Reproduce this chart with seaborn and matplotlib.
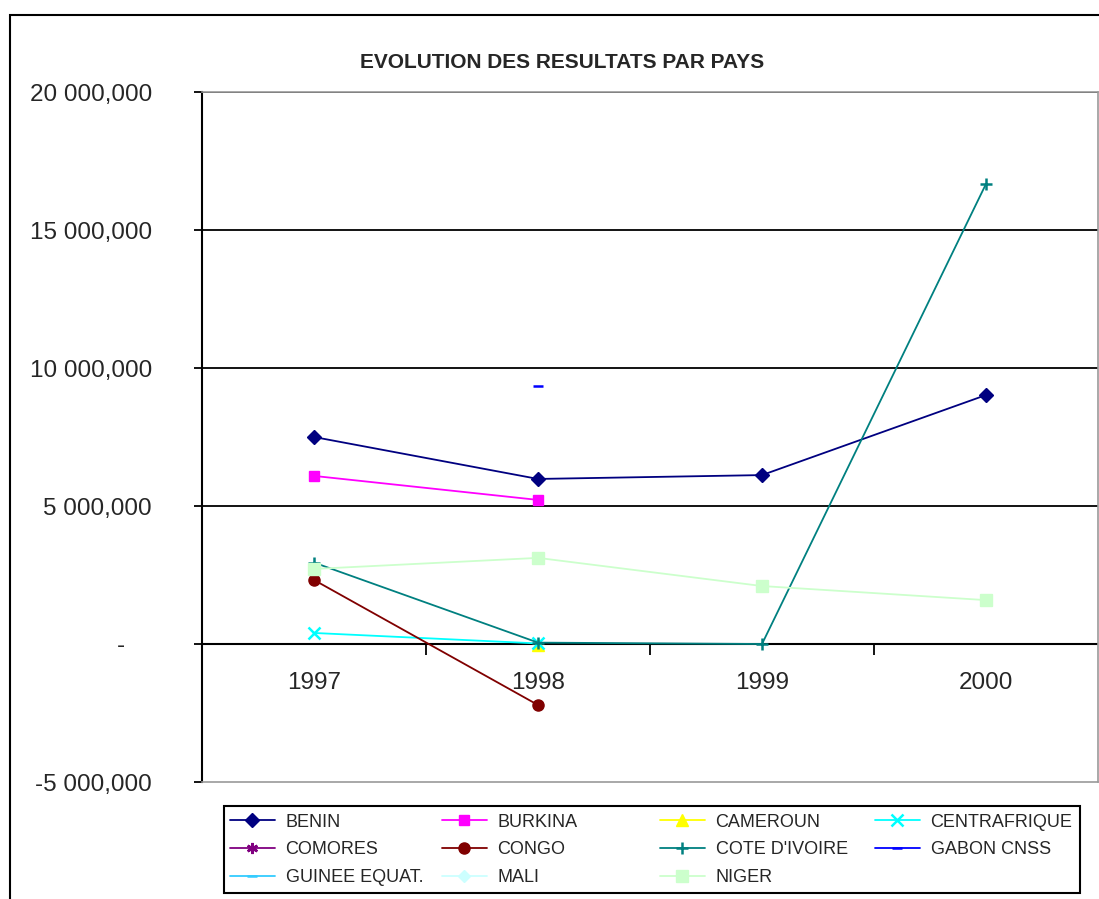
import numpy as np
import pandas as pd
import matplotlib
matplotlib.use("Agg")
import matplotlib.pyplot as plt
from matplotlib.lines import Line2D
from matplotlib.patches import Rectangle
import seaborn as sns

# Data
years = ["1997", "1998", "1999", "2000"]
benin = [7500000, 5980000, 6120000, 9020000]
burkina = [6090000, 5220000, np.nan, np.nan]
cameroun = [np.nan, -30000, np.nan, np.nan]
centrafrique = [400000, 20000, np.nan, np.nan]
comores = [np.nan, np.nan, np.nan, np.nan]
congo = [2320000, -2210000, np.nan, np.nan]
cote_ivoire = [2950000, 50000, 0, 16670000]
gabon_cnss = [np.nan, 9350000, np.nan, np.nan]
guinee_equat = [np.nan, np.nan, np.nan, np.nan]
mali = [np.nan, np.nan, np.nan, np.nan]
niger = [2720000, 3120000, 2100000, 1590000]

series = {
    "BENIN": benin, "BURKINA": burkina, "CAMEROUN": cameroun,
    "CENTRAFRIQUE": centrafrique, "COMORES": comores, "CONGO": congo,
    "COTE D'IVOIRE": cote_ivoire, "GABON CNSS": gabon_cnss,
    "GUINEE EQUAT.": guinee_equat, "MALI": mali, "NIGER": niger,
}
colors = {
    "BENIN": "#000080", "BURKINA": "#FF00FF", "CAMEROUN": "#FFFF00",
    "CENTRAFRIQUE": "#00FFFF", "COMORES": "#800080", "CONGO": "#800000",
    "COTE D'IVOIRE": "#008080", "GABON CNSS": "#0000FF",
    "GUINEE EQUAT.": "#33CCFF", "MALI": "#CCFFFF", "NIGER": "#CCFFCC",
}
markers = {
    "BENIN": "D", "BURKINA": "s", "CAMEROUN": "^", "CENTRAFRIQUE": "x",
    "COMORES": (6, 2, 0), "CONGO": "o", "COTE D'IVOIRE": "+",
    "GABON CNSS": "_", "GUINEE EQUAT.": "_", "MALI": "D", "NIGER": "s",
}
msizes = {"BENIN": 7, "BURKINA": 7, "CAMEROUN": 8, "CENTRAFRIQUE": 8,
          "COMORES": 8, "CONGO": 8, "COTE D'IVOIRE": 9, "GABON CNSS": 7,
          "GUINEE EQUAT.": 7, "MALI": 6, "NIGER": 8}

sns.set_style("white")
plt.rcParams["font.family"] = ["Liberation Sans", "DejaVu Sans"]

fig = plt.figure(figsize=(10.99, 8.99), dpi=100)
W, H = 1099, 899
ax = fig.add_axes([202 / W, (H - 782) / H, (1098 - 202) / W, (782 - 92) / H])

# outer chart border
fig.patches.append(Rectangle((10 / W, -0.01), 1.0, (H - 15) / H + 0.01,
                             transform=fig.transFigure, fill=False,
                             edgecolor="black", linewidth=1.5, zorder=0))

xpos = np.arange(len(years))
handles = []
for name, vals in series.items():
    c = colors[name]
    df = pd.DataFrame({"x": xpos, "y": vals}).dropna()
    mew = 1.8 if markers[name] in ("x", "+", "_", (6, 2, 0)) else 1
    if len(df):
        sns.lineplot(data=df, x="x", y="y", ax=ax, color=c, linewidth=1.3,
                     marker=markers[name], markersize=msizes[name],
                     markeredgecolor=c, markerfacecolor=c, markeredgewidth=mew,
                     zorder=3)
    handles.append(Line2D([], [], color=c, linewidth=1.3, marker=markers[name],
                          markersize=msizes[name], markeredgecolor=c,
                          markerfacecolor=c, markeredgewidth=mew, label=name))

ax.set_xlim(-0.5, 3.5)
ax.set_ylim(-5000000, 20000000)
ax.set_xlabel("")
ax.set_ylabel("")

# horizontal gridlines
for v in [5000000, 10000000, 15000000, 20000000]:
    ax.axhline(v, color="black", linewidth=1.3, zorder=1)
ax.axhline(0, color="black", linewidth=1.5, zorder=2)
ax.vlines([0.5, 1.5, 2.5], -400000, 0, color="black", linewidth=1.3, zorder=2)

for s in ["top", "right", "bottom"]:
    ax.spines[s].set_color("#999999")
    ax.spines[s].set_linewidth(1.2)
ax.spines["left"].set_color("black")
ax.spines["left"].set_linewidth(1.5)

yt = [-5000000, 0, 5000000, 10000000, 15000000, 20000000]
ylabels = ["-5 000,000", "-    ", "5 000,000", "10 000,000", "15 000,000", "20 000,000"]
ax.set_yticks(yt)
ax.set_yticklabels(ylabels, fontsize=17.5)
ax.tick_params(axis="y", direction="out", length=6, width=1.3, color="black", pad=30, left=True)
ax.set_xticks([])

# category labels sit next to the zero axis
for i, yr in enumerate(years):
    ax.text(i, -1400000, yr, ha="center", va="center", fontsize=17.5)

fig.text(562 / W, 1 - 62 / H, "EVOLUTION DES RESULTATS PAR PAYS",
         ha="center", va="center", fontsize=15, fontweight="bold")

# legend: 4 columns filled row by row, inside one black frame
fig.patches.append(Rectangle((224 / W, (H - 893) / H), (1080 - 224) / W, (893 - 806) / H,
                             transform=fig.transFigure, fill=True, facecolor="white",
                             edgecolor="black", linewidth=1.5, zorder=1))
col_x = [226, 438, 656, 871]
for j, x in enumerate(col_x):
    col_handles = handles[j::4]
    leg = fig.legend(handles=col_handles, loc="upper left",
                     bbox_to_anchor=(x / W, (H - 810) / H), frameon=False,
                     fontsize=13, handlelength=2.5, handletextpad=0.6,
                     labelspacing=0.6, borderpad=0.2, borderaxespad=0)
    leg.set_zorder(2)

fig.savefig("out.png", dpi=100)
